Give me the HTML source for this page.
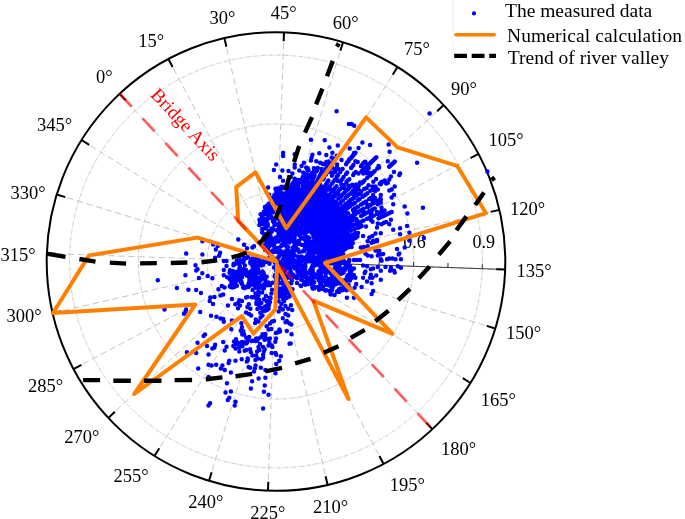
<!DOCTYPE html>
<html><head><meta charset="utf-8"><style>
html,body{margin:0;padding:0;background:#fff;}
svg{display:block;will-change:transform;font-family:"Liberation Serif",serif;}
</style></head><body>
<svg width="685" height="519" viewBox="0 0 685 519">
<rect width="685" height="519" fill="#fff"/>
<g stroke="#c6c6c6" stroke-width="1" stroke-dasharray="6.5 3.6" fill="none"><line x1="276.0" y1="261.5" x2="119.6" y2="93.8"/><line x1="276.0" y1="261.5" x2="168.4" y2="59.0"/><line x1="276.0" y1="261.5" x2="224.4" y2="38.1"/><line x1="276.0" y1="261.5" x2="284.0" y2="32.3"/><line x1="276.0" y1="261.5" x2="343.0" y2="42.2"/><line x1="276.0" y1="261.5" x2="397.5" y2="67.0"/><line x1="276.0" y1="261.5" x2="443.7" y2="105.1"/><line x1="276.0" y1="261.5" x2="478.5" y2="153.9"/><line x1="276.0" y1="261.5" x2="499.4" y2="209.9"/><line x1="276.0" y1="261.5" x2="505.2" y2="269.5"/><line x1="276.0" y1="261.5" x2="495.3" y2="328.5"/><line x1="276.0" y1="261.5" x2="470.5" y2="383.0"/><line x1="276.0" y1="261.5" x2="432.4" y2="429.2"/><line x1="276.0" y1="261.5" x2="383.6" y2="464.0"/><line x1="276.0" y1="261.5" x2="327.6" y2="484.9"/><line x1="276.0" y1="261.5" x2="268.0" y2="490.7"/><line x1="276.0" y1="261.5" x2="209.0" y2="480.8"/><line x1="276.0" y1="261.5" x2="154.5" y2="456.0"/><line x1="276.0" y1="261.5" x2="108.3" y2="417.9"/><line x1="276.0" y1="261.5" x2="73.5" y2="369.1"/><line x1="276.0" y1="261.5" x2="52.6" y2="313.1"/><line x1="276.0" y1="261.5" x2="46.8" y2="253.5"/><line x1="276.0" y1="261.5" x2="56.7" y2="194.5"/><line x1="276.0" y1="261.5" x2="81.5" y2="140.0"/></g>
<g stroke="#cacaca" stroke-width="1" stroke-dasharray="4 1.2 1.2 1.2" fill="none"><circle cx="276.0" cy="261.5" r="68.8"/><circle cx="276.0" cy="261.5" r="137.6"/><circle cx="276.0" cy="261.5" r="206.4"/></g>
<g stroke="#3a3a3a" stroke-width="1.1"><line x1="276.0" y1="261.5" x2="505.2" y2="269.5"/><line x1="310.4" y1="262.7" x2="310.5" y2="258.2"/><line x1="344.7" y1="263.9" x2="344.9" y2="259.4"/><line x1="379.1" y1="265.1" x2="379.3" y2="260.6"/><line x1="413.5" y1="266.3" x2="413.7" y2="261.8"/><line x1="447.9" y1="267.5" x2="448.0" y2="263.0"/><line x1="482.2" y1="268.7" x2="482.4" y2="264.2"/></g>
<g stroke="#000" stroke-width="2" fill="none"><circle cx="276.0" cy="261.5" r="229.3"/><line x1="119.6" y1="93.8" x2="125.8" y2="100.4"/><line x1="168.4" y1="59.0" x2="172.6" y2="67.0"/><line x1="224.4" y1="38.1" x2="226.4" y2="46.8"/><line x1="284.0" y1="32.3" x2="283.7" y2="41.3"/><line x1="343.0" y1="42.2" x2="340.4" y2="50.8"/><line x1="397.5" y1="67.0" x2="392.7" y2="74.7"/><line x1="443.7" y1="105.1" x2="437.1" y2="111.3"/><line x1="478.5" y1="153.9" x2="470.5" y2="158.1"/><line x1="499.4" y1="209.9" x2="490.7" y2="211.9"/><line x1="505.2" y1="269.5" x2="496.2" y2="269.2"/><line x1="495.3" y1="328.5" x2="486.7" y2="325.9"/><line x1="470.5" y1="383.0" x2="462.8" y2="378.2"/><line x1="432.4" y1="429.2" x2="426.2" y2="422.6"/><line x1="383.6" y1="464.0" x2="379.4" y2="456.0"/><line x1="327.6" y1="484.9" x2="325.6" y2="476.2"/><line x1="268.0" y1="490.7" x2="268.3" y2="481.7"/><line x1="209.0" y1="480.8" x2="211.6" y2="472.2"/><line x1="154.5" y1="456.0" x2="159.3" y2="448.3"/><line x1="108.3" y1="417.9" x2="114.9" y2="411.7"/><line x1="73.5" y1="369.1" x2="81.5" y2="364.9"/><line x1="52.6" y1="313.1" x2="61.3" y2="311.1"/><line x1="46.8" y1="253.5" x2="55.8" y2="253.8"/><line x1="56.7" y1="194.5" x2="65.3" y2="197.1"/><line x1="81.5" y1="140.0" x2="89.2" y2="144.8"/></g>
<g font-size="18" fill="#000"><text x="403.3" y="247.5">0.6</text><text x="472.6" y="248.4">0.9</text></g>
<path d="M326.8 237.5h0M331.8 231.3h0M293.3 228.8h0M327.1 200.5h0M336.1 240.8h0M324.8 246.6h0M293.4 253.4h0M333.4 236.7h0M323.9 242.5h0M293.4 239.0h0M289.2 232.1h0M311.8 198.4h0M338.9 234.3h0M287.7 233.8h0M307.2 223.3h0M313.4 237.2h0M321.5 200.4h0M293.1 183.3h0M275.7 210.3h0M335.6 224.7h0M302.0 259.3h0M313.0 246.2h0M265.6 228.6h0M299.0 193.1h0M301.0 229.8h0M294.7 222.8h0M309.6 209.4h0M283.3 233.4h0M306.5 202.6h0M319.6 203.7h0M322.8 211.4h0M334.9 241.1h0M335.6 214.7h0M299.5 259.8h0M279.8 222.5h0M338.3 239.0h0M298.7 260.2h0M328.1 229.1h0M268.9 230.9h0M297.6 196.0h0M263.6 222.9h0M269.7 215.8h0M315.5 216.9h0M281.3 227.4h0M294.6 243.6h0M339.5 240.0h0M279.3 188.6h0M334.5 244.1h0M311.9 208.9h0M282.1 235.9h0M306.8 228.2h0M312.6 241.6h0M275.2 199.7h0M295.1 230.8h0M267.8 224.0h0M316.2 224.8h0M312.4 210.0h0M299.6 196.6h0M288.2 240.8h0M269.3 246.2h0M311.8 242.8h0M277.2 214.3h0M281.0 246.2h0M290.3 233.3h0M305.5 241.0h0M336.9 214.6h0M290.3 187.2h0M266.2 225.9h0M300.1 235.9h0M284.4 243.4h0M315.0 185.9h0M284.8 239.2h0M317.7 202.6h0M271.3 208.8h0M320.4 209.5h0M269.1 237.9h0M307.2 255.2h0M296.1 245.7h0M284.9 205.4h0M292.9 256.6h0M289.7 209.4h0M289.8 211.9h0M291.9 195.3h0M306.8 245.2h0M304.8 248.4h0M306.7 193.8h0M323.2 252.1h0M302.7 224.2h0M307.1 259.2h0M314.1 245.8h0M264.6 224.4h0M266.1 240.2h0M312.7 191.0h0M322.1 232.9h0M279.9 197.4h0M323.8 222.3h0M323.7 211.8h0M287.7 259.4h0M315.9 220.0h0M304.5 238.9h0M318.9 255.0h0M293.8 247.6h0M315.4 249.9h0M327.2 248.2h0M313.2 222.5h0M319.1 245.6h0M294.8 214.0h0M271.5 240.6h0M295.0 203.3h0M285.2 188.6h0M313.9 243.4h0M297.9 227.5h0M277.5 198.6h0M319.7 228.4h0M278.1 194.4h0M282.9 193.4h0M323.1 205.0h0M305.4 246.8h0M299.6 200.7h0M288.1 224.5h0M339.9 219.1h0M291.7 222.8h0M302.7 201.9h0M342.7 233.6h0M299.1 209.9h0M326.4 238.2h0M310.3 192.2h0M272.4 205.8h0M281.1 251.2h0M302.7 231.9h0M304.3 191.6h0M328.5 249.3h0M282.0 238.5h0M267.4 218.9h0M298.7 258.3h0M308.7 250.2h0M284.8 244.5h0M294.4 255.1h0M266.9 247.6h0M276.8 224.2h0M303.5 192.2h0M329.4 204.9h0M285.0 217.8h0M319.5 208.9h0M317.2 187.9h0M292.5 217.4h0M291.0 238.0h0M279.2 225.9h0M276.6 230.2h0M283.7 210.3h0M304.7 203.8h0M287.7 211.6h0M315.4 200.4h0M276.1 239.7h0M287.0 257.4h0M306.7 239.1h0M287.2 247.7h0M267.2 235.3h0M318.9 194.0h0M293.1 248.5h0M309.2 186.6h0M278.3 192.1h0M269.7 212.8h0M295.2 221.5h0M313.8 242.7h0M328.5 211.1h0M287.2 213.3h0M325.8 233.8h0M287.1 207.5h0M314.1 187.9h0M291.0 221.3h0M325.7 247.5h0M310.8 192.2h0M323.8 254.0h0M305.4 208.3h0M301.4 190.9h0M302.7 238.4h0M338.9 231.1h0M279.8 226.9h0M318.0 206.4h0M337.6 209.1h0M298.3 189.4h0M335.5 224.2h0M306.5 225.6h0M281.5 254.5h0M309.9 189.3h0M328.8 203.0h0M307.6 248.0h0M274.9 224.5h0M338.4 233.7h0M285.1 234.7h0M321.4 210.7h0M309.1 245.7h0M298.7 191.0h0M291.8 226.3h0M273.8 222.2h0M281.4 226.2h0M287.2 232.3h0M309.8 218.1h0M293.9 230.8h0M317.3 241.9h0M322.6 219.4h0M331.3 213.0h0M295.8 226.0h0M335.6 222.7h0M303.5 214.9h0M335.5 205.7h0M263.8 239.3h0M335.1 239.8h0M309.6 241.4h0M284.9 228.3h0M296.9 220.8h0M292.7 183.4h0M317.8 222.7h0M279.4 204.5h0M292.6 198.7h0M340.7 234.3h0M332.3 214.0h0M327.1 197.5h0M322.2 226.1h0M304.5 257.9h0M284.4 206.0h0M328.0 212.0h0M289.3 227.6h0M335.0 204.6h0M301.2 256.5h0M276.6 203.6h0M275.7 248.6h0M289.1 218.3h0M273.7 252.0h0M312.5 195.0h0M268.1 239.3h0M285.6 253.7h0M332.5 238.2h0M270.6 236.8h0M338.3 216.0h0M285.1 238.0h0M275.8 194.1h0M279.1 234.2h0M325.9 210.0h0M315.0 252.4h0M309.0 198.1h0M284.6 255.9h0M315.5 202.1h0M313.2 186.6h0M303.8 223.1h0M263.0 228.8h0M283.2 199.9h0M283.3 241.7h0M279.9 202.2h0M305.4 194.6h0M262.0 217.4h0M322.5 211.0h0M337.6 220.5h0M274.4 225.2h0M313.6 208.9h0M314.7 244.0h0M302.8 221.0h0M330.5 235.8h0M303.1 258.0h0M273.9 243.7h0M273.1 229.5h0M279.0 215.6h0M324.4 244.3h0M325.9 198.7h0M300.5 197.5h0M308.1 220.5h0M319.5 226.6h0M301.0 215.1h0M296.5 200.9h0M335.7 226.3h0M305.0 244.7h0M279.3 191.2h0M285.7 230.6h0M303.5 201.1h0M308.9 186.4h0M280.7 192.4h0M317.5 248.0h0M293.8 209.3h0M277.4 259.6h0M262.8 219.7h0M271.4 216.9h0M279.5 252.9h0M271.1 211.7h0M284.3 214.3h0M321.1 198.2h0M280.6 224.9h0M279.6 217.4h0M337.8 209.3h0M287.6 260.4h0M310.7 182.4h0M293.2 233.0h0M317.8 250.8h0M309.0 252.6h0M298.2 211.7h0M330.3 210.7h0M325.1 197.0h0M288.5 194.3h0M305.6 192.7h0M276.4 196.9h0M298.6 204.7h0M316.5 250.6h0M276.5 210.9h0M265.3 236.4h0M289.8 201.9h0M281.3 211.7h0M337.1 238.4h0M281.9 209.0h0M272.1 256.7h0M289.5 242.6h0M320.2 254.3h0M291.6 186.0h0M333.6 206.1h0M324.2 222.2h0M263.8 211.8h0M271.9 228.5h0M295.0 224.2h0M270.7 237.7h0M281.2 239.2h0M315.4 191.3h0M276.5 202.3h0M319.3 212.7h0M291.8 250.9h0M278.3 203.3h0M288.3 197.0h0M312.4 226.0h0M284.3 234.7h0M317.3 234.4h0M279.0 231.5h0M266.8 214.6h0M292.3 184.1h0M291.5 206.3h0M301.1 202.3h0M272.6 212.5h0M299.3 192.9h0M315.3 199.0h0M267.0 207.4h0M294.8 191.6h0M308.3 237.2h0M305.9 237.1h0M293.3 183.6h0M301.0 227.7h0M298.8 206.1h0M288.5 253.0h0M306.9 200.8h0M315.5 194.5h0M298.8 230.1h0M307.8 257.2h0M324.3 231.1h0M311.6 213.2h0M294.3 202.0h0M329.2 252.0h0M291.4 254.5h0M302.0 204.7h0M289.6 260.1h0M278.5 235.5h0M305.1 211.8h0M279.4 220.0h0M314.0 224.5h0M311.9 225.6h0M287.3 207.8h0M334.0 205.1h0M319.6 236.8h0M317.1 259.0h0M311.6 219.8h0M306.8 209.7h0M283.3 241.2h0M304.2 198.8h0M280.2 206.1h0M274.2 221.7h0M318.6 188.5h0M297.3 243.1h0M299.7 192.6h0M332.3 251.2h0M302.0 245.1h0M292.3 238.5h0M280.4 238.4h0M286.8 206.8h0M323.2 249.0h0M329.1 226.1h0M294.7 237.7h0M311.7 248.0h0M291.0 234.6h0M278.7 194.4h0M270.5 236.1h0M294.6 231.5h0M292.7 256.5h0M319.4 188.9h0M269.3 206.5h0M261.4 224.1h0M299.9 210.1h0M285.3 245.5h0M329.9 202.6h0M292.2 230.3h0M292.0 236.6h0M305.2 245.4h0M280.4 219.6h0M269.4 205.9h0M271.3 230.9h0M282.3 198.0h0M299.9 209.4h0M274.6 219.2h0M332.3 219.3h0M294.2 246.0h0M292.6 183.9h0M305.6 233.6h0M311.7 202.1h0M329.5 239.2h0M265.5 208.9h0M322.8 204.8h0M302.6 180.0h0M276.9 258.6h0M260.1 222.8h0M327.5 244.8h0M321.2 212.2h0M326.9 247.7h0M293.1 237.6h0M280.3 254.5h0M278.4 211.3h0M290.3 233.6h0M327.6 209.3h0M313.0 208.5h0M282.7 254.1h0M287.4 240.6h0M277.0 240.7h0M305.3 235.5h0M271.3 208.2h0M301.6 212.5h0M286.3 223.6h0M333.5 205.7h0M293.6 237.6h0M274.2 201.8h0M316.3 257.7h0M286.4 194.3h0M289.3 261.1h0M271.7 231.7h0M291.1 232.5h0M277.1 230.2h0M334.1 250.1h0M312.2 221.0h0M307.1 188.6h0M329.8 236.3h0M297.4 234.3h0M294.6 211.0h0M278.6 228.9h0M307.5 221.8h0M296.9 228.3h0M309.3 256.3h0M272.0 218.0h0M285.6 240.2h0M278.9 248.8h0M314.0 256.8h0M329.1 245.2h0M319.2 199.9h0M327.3 216.7h0M304.4 250.9h0M275.7 202.3h0M313.5 185.2h0M306.0 244.4h0M300.6 199.2h0M326.7 250.0h0M324.2 224.6h0M335.6 245.2h0M272.0 209.4h0M288.4 250.8h0M274.5 211.3h0M330.8 230.3h0M312.3 251.8h0M320.6 195.4h0M315.6 214.8h0M285.8 231.3h0M282.7 229.1h0M317.8 194.1h0M270.0 236.6h0M298.5 189.8h0M310.7 208.7h0M275.7 261.6h0M317.5 240.1h0M289.6 204.8h0M293.6 191.2h0M312.4 214.3h0M328.4 213.0h0M297.7 221.1h0M318.5 198.6h0M308.1 202.7h0M332.8 202.9h0M331.3 235.2h0M297.6 256.5h0M291.9 240.7h0M309.9 216.3h0M264.6 213.9h0M282.9 215.7h0M317.8 234.8h0M279.8 213.2h0M270.3 253.3h0M280.4 214.0h0M288.0 247.1h0M330.9 228.1h0M305.2 187.4h0M289.9 210.2h0M320.2 234.6h0M288.2 253.5h0M312.6 218.0h0M289.7 217.6h0M285.9 234.7h0M310.3 259.5h0M292.5 247.8h0M314.0 237.2h0M298.2 212.4h0M314.5 197.2h0M290.4 191.0h0M292.5 240.6h0M313.9 230.8h0M321.8 200.1h0M327.6 239.7h0M331.7 257.4h0M288.8 223.5h0M304.2 188.3h0M325.8 204.1h0M302.0 189.4h0M307.1 189.9h0M266.7 221.6h0M284.0 243.6h0M280.0 213.4h0M297.3 225.4h0M297.9 249.6h0M268.0 249.6h0M303.5 212.8h0M310.8 250.7h0M328.2 240.0h0M319.3 192.1h0M304.0 181.5h0M268.5 204.0h0M340.7 232.4h0M294.3 185.6h0M281.2 188.4h0M336.7 206.4h0M300.4 233.3h0M307.1 220.6h0M335.4 211.8h0M284.4 240.4h0M281.0 209.6h0M295.4 218.6h0M289.4 214.8h0M297.2 183.2h0M303.7 224.5h0M292.9 197.6h0M267.6 209.9h0M285.7 219.2h0M278.6 241.2h0M293.5 259.2h0M309.6 209.7h0M284.6 229.6h0M308.9 205.2h0M301.2 221.9h0M282.0 245.1h0M295.1 250.4h0M293.1 202.8h0M316.5 186.2h0M286.9 205.4h0M328.3 244.5h0M313.4 183.8h0M311.9 224.9h0M337.4 232.1h0M322.7 227.2h0M294.5 235.4h0M265.5 243.9h0M296.4 241.4h0M291.1 216.2h0M296.0 188.9h0M286.2 240.0h0M329.5 234.3h0M305.4 188.5h0M269.2 204.8h0M339.7 225.5h0M294.2 223.6h0M332.9 218.3h0M261.8 214.9h0M291.0 235.0h0M337.5 220.0h0M317.4 211.3h0M321.8 192.9h0M308.6 195.9h0M288.4 192.7h0M288.7 228.1h0M303.1 211.3h0M307.6 248.9h0M289.4 227.5h0M299.7 260.4h0M286.9 236.9h0M278.9 200.8h0M320.8 226.8h0M328.8 210.4h0M319.6 215.0h0M311.3 225.5h0M297.6 219.5h0M278.7 241.5h0M318.1 226.2h0M305.7 206.7h0M272.0 257.9h0M323.7 245.9h0M267.4 244.1h0M277.6 195.6h0M304.3 229.7h0M269.4 242.5h0M308.3 253.7h0M337.1 236.2h0M289.9 257.9h0M319.8 203.2h0M331.5 239.4h0M281.5 199.8h0M260.9 223.6h0M280.6 203.4h0M280.5 190.0h0M300.1 201.7h0M283.2 202.1h0M302.1 251.5h0M272.7 250.4h0M331.3 229.6h0M305.1 239.9h0M304.3 233.8h0M336.7 243.4h0M325.6 198.5h0M297.4 209.8h0M320.7 257.3h0M301.8 226.0h0M288.6 198.4h0M338.5 233.6h0M267.8 226.0h0M285.3 251.4h0M264.4 234.3h0M317.0 250.0h0M325.4 222.3h0M265.7 222.8h0M274.8 222.8h0M289.1 220.5h0M275.9 237.6h0M294.4 219.4h0M265.8 219.5h0M306.2 259.7h0M306.6 190.3h0M284.5 206.9h0M318.4 256.9h0M300.5 228.1h0M317.0 229.9h0M310.9 256.5h0M266.5 222.2h0M268.6 251.1h0M317.3 222.2h0M308.1 241.9h0M264.9 244.9h0M293.6 206.9h0M324.2 200.9h0M308.6 222.7h0M287.5 235.1h0M297.6 198.5h0M271.8 200.1h0M299.6 244.1h0M287.3 198.9h0M314.4 200.7h0M303.3 200.2h0M278.8 204.1h0M287.0 239.3h0M316.1 244.6h0M304.8 185.6h0M323.6 199.4h0M277.6 213.5h0M289.3 254.6h0M270.6 244.6h0M325.2 207.1h0M325.9 210.6h0M283.4 228.3h0M321.7 218.6h0M301.3 210.6h0M319.5 257.5h0M316.4 252.3h0M320.5 257.8h0M297.5 210.0h0M274.8 207.9h0M303.6 223.9h0M307.1 242.3h0M303.6 257.6h0M323.4 255.7h0M301.7 192.4h0M287.1 226.2h0M284.0 244.8h0M310.1 249.2h0M298.4 194.9h0M293.0 183.4h0M321.3 196.7h0M326.6 220.5h0M314.3 217.7h0M281.2 230.4h0M290.4 218.3h0M311.8 205.4h0M289.3 252.4h0M308.2 213.7h0M304.8 217.3h0M287.2 254.8h0M278.9 256.7h0M331.1 252.2h0M272.9 221.3h0M273.6 239.1h0M279.0 227.5h0M272.5 257.6h0M283.2 187.1h0M317.2 207.9h0M306.4 220.3h0M337.0 221.7h0M301.1 201.4h0M307.6 231.5h0M298.2 186.6h0M301.2 219.0h0M313.3 259.5h0M282.8 215.8h0M266.3 245.4h0M279.0 247.8h0M326.5 200.2h0M335.3 220.9h0M295.1 225.1h0M339.0 219.7h0M299.9 203.2h0M330.1 220.8h0M288.1 195.4h0M277.3 248.3h0M336.6 235.9h0M326.5 238.1h0M327.5 245.5h0M274.1 246.6h0M284.8 199.3h0M302.4 207.6h0M326.0 229.7h0M313.5 184.5h0M315.5 188.2h0M285.4 194.5h0M317.8 242.0h0M342.3 230.7h0M269.8 239.3h0M324.0 244.2h0M332.9 226.3h0M338.8 232.1h0M300.7 211.0h0M272.8 245.1h0M278.5 233.3h0M324.6 236.7h0M302.7 205.3h0M282.2 194.6h0M313.8 236.0h0M283.7 258.0h0M311.4 258.9h0M324.5 206.7h0M282.8 222.4h0M300.3 182.0h0M331.9 223.5h0M299.1 240.8h0M280.3 195.6h0M308.2 199.1h0M303.6 257.8h0M313.1 213.5h0M293.5 198.6h0M299.2 258.6h0M269.5 215.0h0M317.0 242.3h0M306.0 232.3h0M280.4 224.0h0M275.2 242.6h0M305.7 201.7h0M319.9 239.4h0M286.1 242.7h0M313.8 237.6h0M297.7 215.0h0M268.2 218.5h0M281.9 236.7h0M296.1 189.7h0M295.1 226.6h0M322.0 212.5h0M314.0 235.6h0M311.1 183.0h0M319.1 189.8h0M263.8 218.4h0M292.2 218.0h0M331.1 219.5h0M308.8 205.3h0M284.9 197.4h0M332.2 221.3h0M293.8 212.2h0M325.9 237.8h0M297.0 209.4h0M296.0 216.7h0M285.8 230.8h0M293.9 204.3h0M324.4 216.8h0M299.1 252.0h0M297.5 210.3h0M325.5 212.4h0M315.8 240.5h0M284.2 239.1h0M339.3 233.5h0M315.6 215.2h0M314.3 197.8h0M324.2 223.8h0M294.3 242.6h0M281.1 230.0h0M277.8 212.1h0M308.4 247.2h0M329.8 211.5h0M309.0 238.1h0M323.4 241.0h0M308.0 200.0h0M318.7 225.6h0M270.7 243.8h0M286.6 239.3h0M307.0 222.9h0M301.0 193.0h0M312.0 253.2h0M315.1 203.1h0M327.2 213.9h0M271.4 229.3h0M298.0 223.0h0M284.5 236.5h0M317.4 247.8h0M291.3 201.8h0M289.4 223.7h0M314.6 191.4h0M285.4 251.4h0M266.4 244.9h0M321.5 201.0h0M300.5 236.8h0M318.5 237.1h0M287.6 251.9h0M277.6 218.4h0M285.7 215.7h0M327.7 226.4h0M278.0 197.6h0M311.5 191.6h0M296.3 214.9h0M329.0 255.0h0M316.3 193.3h0M289.2 237.7h0M277.4 252.3h0M289.9 198.1h0M330.1 224.1h0M308.4 187.0h0M342.3 228.9h0M318.0 193.7h0M297.0 283.0h0M329.6 271.6h0M312.0 270.5h0M319.2 272.7h0M303.7 269.2h0M298.5 269.6h0M321.6 269.9h0M312.1 277.9h0M334.1 281.5h0M326.8 283.8h0M314.5 274.6h0M306.0 277.6h0M312.1 278.5h0M317.0 287.0h0M344.7 268.4h0M323.8 270.4h0M340.4 283.6h0M329.3 285.6h0M311.0 274.1h0M340.3 263.5h0M317.9 278.0h0M306.0 282.1h0M348.3 275.4h0M334.7 280.5h0M320.8 266.7h0M327.9 268.2h0M310.4 278.9h0M301.9 280.1h0M324.6 261.6h0M292.5 263.4h0M334.7 272.0h0M349.8 279.4h0M331.8 286.0h0M280.4 262.1h0M337.4 265.6h0M349.8 271.6h0M290.3 277.3h0M350.6 268.9h0M327.9 263.2h0M290.4 268.8h0M327.6 281.7h0M305.5 284.7h0M314.0 262.9h0M313.9 273.7h0M316.9 262.6h0M304.6 271.9h0M346.4 267.0h0M314.5 277.5h0M335.0 279.6h0M294.4 267.3h0M331.8 263.6h0M342.6 262.1h0M290.6 276.4h0M341.0 281.4h0M333.4 286.1h0M331.6 262.7h0M339.5 265.9h0M288.5 262.2h0M305.3 263.9h0M278.9 264.7h0M298.1 267.3h0M284.6 267.6h0M325.3 266.5h0M304.9 265.9h0M319.7 277.8h0M305.9 276.7h0M290.9 272.1h0M321.2 273.9h0M330.5 273.3h0M330.4 291.0h0M336.4 284.1h0M347.2 267.1h0M334.9 264.7h0M342.7 272.9h0M345.1 280.0h0M340.6 282.6h0M349.9 265.7h0M307.1 279.6h0M297.5 271.7h0M322.7 267.3h0M352.0 269.7h0M304.2 283.9h0M301.3 270.1h0M293.9 276.9h0M331.6 289.3h0M348.0 274.9h0M300.5 274.1h0M311.6 283.6h0M350.4 267.7h0M323.5 266.3h0M320.1 283.3h0M283.6 262.2h0M328.7 279.1h0M341.9 273.3h0M339.5 272.4h0M332.1 290.2h0M318.7 280.2h0M342.5 283.3h0M351.1 270.5h0M335.6 281.9h0M312.7 269.7h0M322.3 277.8h0M315.3 262.9h0M337.0 270.6h0M311.1 277.7h0M337.9 274.0h0M346.9 277.0h0M306.6 276.8h0M287.6 265.9h0M308.6 280.9h0M334.8 275.7h0M298.7 273.1h0M344.4 268.0h0M313.2 265.4h0M333.7 263.1h0M328.0 268.1h0M310.3 281.0h0M301.8 265.7h0M336.1 264.6h0M336.9 267.8h0M312.2 270.9h0M346.6 267.9h0M325.5 263.4h0M323.6 271.6h0M331.7 290.8h0M337.2 262.3h0M314.8 265.6h0M342.6 269.2h0M318.5 271.5h0M334.5 272.1h0M308.4 284.0h0M332.0 276.3h0M285.1 264.2h0M314.2 282.3h0M304.1 273.2h0M322.6 265.2h0M330.1 280.7h0M323.2 286.4h0M350.7 274.4h0M325.9 273.4h0M307.6 273.1h0M325.8 272.6h0M337.6 283.3h0M341.0 273.7h0M325.5 269.3h0M300.3 264.3h0M337.5 291.4h0M299.3 273.5h0M285.0 265.7h0M325.1 290.4h0M334.5 268.5h0M343.6 272.6h0M312.5 267.7h0M298.4 275.0h0M337.8 271.8h0M290.7 265.0h0M322.4 261.5h0M310.9 280.8h0M300.6 262.1h0M308.4 272.7h0M350.9 272.9h0M347.0 289.6h0M320.2 265.2h0M338.2 264.0h0M318.9 264.2h0M325.7 276.6h0M335.9 283.1h0M307.8 278.0h0M330.9 283.7h0M319.9 287.0h0M339.5 264.0h0M287.2 262.6h0M299.8 275.5h0M311.8 279.6h0M318.2 264.1h0M344.1 263.3h0M321.5 283.0h0M307.8 278.2h0M291.7 276.3h0M284.2 265.5h0M291.2 278.6h0M305.2 266.2h0M339.0 291.9h0M292.1 265.0h0M288.7 268.6h0M312.5 265.2h0M303.1 269.0h0M325.9 284.8h0M335.8 275.4h0M311.2 276.4h0M304.5 276.0h0M328.8 284.5h0M301.1 279.7h0M287.2 262.5h0M305.8 272.9h0M278.5 263.6h0M340.5 262.0h0M300.4 273.2h0M300.0 265.5h0M321.5 288.7h0M305.4 266.8h0M334.9 268.6h0M331.7 287.1h0M282.4 267.2h0M332.7 271.0h0M310.8 272.7h0M312.3 287.2h0M346.8 280.8h0M285.3 271.0h0M328.4 267.7h0M345.1 289.6h0M315.3 262.7h0M298.0 270.7h0M321.8 288.0h0M332.3 272.2h0M293.5 263.1h0M318.1 274.2h0M319.5 270.6h0M301.8 277.2h0M305.1 269.9h0M298.9 264.8h0M303.7 275.6h0M316.5 261.8h0M318.8 277.3h0M314.7 287.1h0M340.3 290.5h0M331.9 283.2h0M311.5 278.6h0M320.6 278.3h0M339.1 289.3h0M323.4 280.7h0M345.9 262.6h0M312.6 273.4h0M349.0 266.4h0M319.4 265.8h0M334.0 277.1h0M332.6 271.1h0M343.7 286.6h0M297.2 263.7h0M330.6 285.1h0M316.6 262.1h0M312.9 272.2h0M348.0 265.1h0M310.3 270.0h0M327.8 264.6h0M301.7 274.5h0M312.4 275.4h0M339.8 268.5h0M294.8 276.2h0M325.5 281.0h0M283.0 267.9h0M332.3 288.7h0M345.1 269.7h0M312.4 285.6h0M335.1 277.8h0M296.9 278.3h0M327.0 271.7h0M325.2 265.8h0M350.8 268.0h0M340.8 289.0h0M339.2 279.7h0M340.4 288.6h0M279.4 263.0h0M332.3 277.1h0M310.4 283.3h0M327.2 283.9h0M304.3 282.1h0M331.7 287.5h0M311.6 267.8h0M310.7 283.5h0M318.2 264.6h0M294.9 268.5h0M293.1 274.7h0M329.5 291.1h0M328.1 261.7h0M342.8 281.1h0M332.3 281.3h0M303.3 272.2h0M289.6 288.0h0M284.7 293.1h0M285.2 295.1h0M284.8 277.1h0M284.5 294.7h0M282.4 296.3h0M280.2 276.6h0M279.4 288.9h0M276.6 275.0h0M281.3 268.5h0M284.6 279.2h0M283.5 272.1h0M275.2 274.9h0M282.8 282.9h0M279.3 283.3h0M276.0 276.6h0M279.6 293.4h0M287.3 289.2h0M284.5 295.2h0M277.1 290.9h0M284.1 286.5h0M278.5 274.9h0M284.7 275.5h0M285.6 296.6h0M277.0 289.8h0M289.2 293.5h0M282.9 280.1h0M289.8 288.4h0M286.2 275.9h0M287.3 284.8h0M281.6 282.9h0M279.4 274.3h0M287.3 277.2h0M290.4 291.1h0M276.0 269.9h0M285.0 298.4h0M279.7 272.4h0M278.5 269.3h0M281.7 277.2h0M288.2 283.2h0M276.6 265.1h0M284.7 295.5h0M278.7 288.7h0M288.3 290.2h0M278.9 269.6h0M275.8 277.3h0M276.3 276.8h0M278.3 279.6h0M284.9 287.7h0M276.5 283.2h0M275.9 279.9h0M281.3 292.5h0M283.6 289.7h0M290.2 289.0h0M278.6 271.2h0M282.7 274.1h0M286.1 279.0h0M275.8 268.3h0M286.6 297.9h0M277.0 267.0h0M287.9 285.8h0M251.5 261.1h0M259.3 261.9h0M235.5 276.4h0M259.3 283.0h0M267.9 261.9h0M243.4 262.1h0M252.2 258.4h0M268.0 283.1h0M239.3 268.5h0M231.8 281.8h0M242.8 271.2h0M264.6 285.6h0M258.1 259.5h0M260.9 287.8h0M252.9 262.1h0M255.8 259.6h0M250.8 260.0h0M248.7 283.5h0M263.8 284.6h0M250.6 271.5h0M231.8 282.6h0M255.9 270.5h0M236.0 272.1h0M232.9 271.0h0M235.6 283.8h0M257.7 285.1h0M255.1 262.6h0M242.1 284.2h0M256.6 278.1h0M258.8 259.0h0M238.5 271.2h0M256.9 265.8h0M231.4 275.3h0M248.3 287.1h0M238.9 264.0h0M267.0 285.2h0M256.2 265.3h0M258.0 286.5h0M257.6 266.7h0M241.2 278.1h0M243.7 261.1h0M231.1 276.9h0M240.5 260.7h0M265.5 262.0h0M246.2 287.2h0M268.0 284.0h0M256.4 267.8h0M246.9 275.6h0M240.8 277.9h0M246.4 271.3h0M253.4 276.8h0M255.1 279.1h0M255.3 275.1h0M240.2 261.4h0M249.8 285.7h0M256.1 274.0h0M250.4 263.2h0M266.1 260.2h0M239.9 266.4h0M238.7 263.7h0M232.9 274.1h0M237.2 277.9h0M257.3 277.4h0M251.7 277.0h0M243.0 272.3h0M261.4 264.3h0M263.5 276.1h0M254.9 281.9h0M242.7 269.3h0M249.4 280.9h0M262.9 263.4h0M258.3 269.7h0M256.9 280.3h0M258.0 282.4h0M249.6 281.1h0M257.5 277.7h0M254.9 278.7h0M255.4 260.4h0M260.8 279.9h0M251.7 262.8h0M253.1 268.9h0M236.9 285.8h0M237.5 280.2h0M237.2 273.9h0M250.2 277.8h0M250.7 262.7h0M245.8 271.5h0M269.9 261.1h0M254.4 272.5h0M255.1 282.7h0M257.2 267.8h0M241.9 274.9h0M259.5 273.0h0M242.7 262.6h0M240.0 271.4h0M248.9 276.6h0M241.9 277.2h0M251.4 282.8h0M244.9 265.6h0M262.6 271.4h0M261.2 265.6h0M248.0 275.9h0M253.7 274.9h0M255.4 287.7h0M264.0 260.4h0M231.7 283.5h0M237.4 273.2h0M259.5 284.7h0M256.8 286.4h0M260.7 265.1h0M246.6 272.8h0M234.3 286.9h0M251.8 263.9h0M252.2 283.1h0M242.0 276.2h0M233.5 265.2h0M238.0 273.6h0M261.4 264.7h0M261.4 276.1h0M250.5 273.7h0M259.4 260.8h0M254.6 263.7h0M241.5 281.9h0M250.1 262.2h0M258.3 271.7h0M254.4 279.8h0M268.4 282.5h0M240.8 282.3h0M253.0 263.4h0M255.5 266.5h0M250.4 281.9h0M252.2 270.2h0M235.0 278.4h0M244.0 274.2h0M245.9 269.9h0M251.7 273.8h0M236.1 280.8h0M241.1 270.3h0M240.8 276.5h0M249.4 279.2h0M249.1 282.4h0M255.0 260.8h0M252.2 265.5h0M243.1 287.6h0M251.7 281.0h0M236.5 277.5h0M234.7 264.5h0M246.4 257.9h0M263.5 278.6h0M231.3 281.9h0M265.6 281.9h0M240.2 273.7h0M266.7 276.7h0M253.8 263.4h0M253.7 276.5h0M250.7 277.7h0M255.6 278.0h0M248.4 284.3h0M254.1 285.5h0M265.3 279.4h0M255.0 265.4h0M234.0 278.5h0M240.8 277.0h0" stroke="#0000ff" stroke-width="4.5" stroke-linecap="round" fill="none"/>
<path d="M279.2 215.8h0M279.3 213.8h0M279.6 211.9h0M279.6 209.9h0M279.7 208.0h0M281.7 216.0h0M281.9 214.1h0M282.2 212.1h0M282.5 210.2h0M282.6 208.3h0M282.8 206.3h0M283.1 204.4h0M283.5 202.5h0M283.7 200.5h0M284.2 194.7h0M283.7 216.3h0M284.1 214.4h0M284.3 212.4h0M284.7 210.5h0M285.1 208.6h0M285.4 206.7h0M285.6 204.8h0M286.0 202.8h0M286.4 200.9h0M286.8 199.0h0M287.0 197.1h0M287.6 193.2h0M288.0 191.3h0M286.3 216.8h0M286.6 214.9h0M287.2 213.0h0M287.6 211.1h0M288.0 209.2h0M288.4 207.3h0M288.8 205.4h0M289.2 203.5h0M289.8 201.6h0M290.2 199.7h0M290.6 197.8h0M291.0 195.9h0M292.0 192.1h0M292.5 190.2h0M292.7 188.3h0M293.6 184.5h0M294.0 182.6h0M294.4 180.7h0M294.8 178.8h0M288.7 217.4h0M289.3 215.6h0M289.8 213.7h0M290.4 211.8h0M290.9 209.9h0M291.4 208.1h0M292.0 206.2h0M292.5 204.3h0M293.0 202.4h0M293.6 200.6h0M294.0 198.7h0M294.5 196.8h0M295.1 194.9h0M296.2 191.2h0M296.9 189.4h0M297.2 187.4h0M297.9 185.6h0M298.9 181.8h0M290.8 218.1h0M291.5 216.3h0M292.1 214.4h0M292.7 212.6h0M293.4 210.8h0M294.0 208.9h0M294.7 207.1h0M295.2 205.2h0M295.9 203.4h0M296.6 201.5h0M297.2 199.7h0M297.9 197.9h0M298.6 196.0h0M299.1 194.2h0M299.7 192.3h0M300.5 190.5h0M302.4 185.0h0M302.9 183.1h0M303.6 181.3h0M304.3 179.4h0M304.8 177.5h0M305.6 175.8h0M306.0 173.9h0M307.3 170.2h0M307.8 168.3h0M292.9 218.9h0M293.6 217.1h0M294.3 215.2h0M294.9 213.4h0M295.7 211.6h0M296.3 209.8h0M297.0 207.9h0M297.8 206.1h0M298.4 204.3h0M299.3 202.5h0M300.0 200.7h0M301.4 197.1h0M302.2 195.3h0M302.8 193.4h0M303.4 191.6h0M304.2 189.8h0M305.0 188.0h0M306.4 184.4h0M307.2 182.6h0M309.2 177.1h0M309.8 175.3h0M294.7 219.6h0M295.6 217.9h0M296.3 216.1h0M297.1 214.3h0M298.0 212.5h0M298.7 210.7h0M299.5 209.0h0M300.4 207.2h0M301.1 205.4h0M301.9 203.6h0M302.9 201.9h0M303.5 200.1h0M304.4 198.3h0M305.0 196.5h0M306.0 194.8h0M306.6 192.9h0M307.4 191.2h0M308.4 189.4h0M309.0 187.6h0M310.0 185.9h0M310.6 184.0h0M311.6 182.4h0M312.2 180.5h0M313.2 178.8h0M314.6 175.2h0M316.2 171.6h0M317.3 169.9h0M317.8 168.0h0M320.1 162.7h0M296.9 220.7h0M297.8 219.0h0M298.8 217.3h0M299.6 215.5h0M300.5 213.8h0M301.4 212.1h0M302.3 210.3h0M303.1 208.5h0M304.0 206.8h0M305.0 205.1h0M305.8 203.4h0M306.6 201.6h0M307.5 199.9h0M308.4 198.1h0M309.4 196.4h0M310.2 194.6h0M311.2 193.0h0M312.1 191.2h0M312.8 189.4h0M313.8 187.7h0M314.8 186.0h0M315.4 184.2h0M316.3 182.4h0M317.4 180.8h0M318.2 179.1h0M319.1 177.3h0M319.9 175.5h0M320.8 173.8h0M321.7 172.1h0M298.9 221.7h0M299.8 220.0h0M300.8 218.4h0M301.8 216.7h0M302.8 215.0h0M303.6 213.2h0M304.6 211.5h0M305.5 209.8h0M306.5 208.2h0M307.6 206.5h0M308.5 204.8h0M309.4 203.1h0M310.5 201.5h0M311.3 199.7h0M312.4 198.0h0M313.3 196.4h0M315.3 193.0h0M316.1 191.2h0M318.3 187.9h0M319.0 186.1h0M320.2 184.6h0M322.9 179.4h0M324.0 177.8h0M326.0 174.4h0M326.8 172.6h0M327.9 171.0h0M329.1 169.4h0M329.9 167.7h0M330.7 165.8h0M332.8 162.6h0M333.7 160.8h0M334.5 159.1h0M336.7 155.8h0M300.9 223.0h0M302.1 221.4h0M303.1 219.8h0M304.2 218.1h0M305.1 216.5h0M306.3 214.9h0M307.4 213.2h0M308.4 211.6h0M309.5 210.0h0M310.5 208.3h0M311.6 206.7h0M312.7 205.1h0M313.7 203.4h0M314.8 201.8h0M315.7 200.1h0M316.9 198.5h0M317.9 196.8h0M319.0 195.3h0M319.9 193.5h0M321.2 192.0h0M322.3 190.4h0M323.2 188.7h0M324.4 187.1h0M325.4 185.4h0M326.4 183.7h0M327.4 182.1h0M328.4 180.4h0M331.9 175.7h0M332.6 173.9h0M333.8 172.3h0M334.8 170.6h0M335.8 169.0h0M337.0 167.4h0M302.7 224.2h0M303.9 222.6h0M305.1 221.1h0M306.2 219.5h0M307.2 217.9h0M308.4 216.3h0M309.5 214.7h0M310.8 213.2h0M311.9 211.6h0M313.0 210.0h0M314.2 208.4h0M315.3 206.8h0M316.4 205.3h0M317.6 203.7h0M318.6 202.0h0M319.7 200.5h0M321.0 198.9h0M322.0 197.3h0M323.2 195.7h0M324.3 194.2h0M325.5 192.6h0M327.8 189.4h0M328.9 187.9h0M330.0 186.3h0M333.5 181.6h0M334.7 180.0h0M336.7 176.7h0M338.1 175.2h0M340.3 172.0h0M342.6 168.9h0M346.1 164.2h0M347.1 162.5h0M349.3 159.3h0M354.0 153.0h0M304.7 225.7h0M305.9 224.2h0M307.1 222.7h0M308.4 221.2h0M309.5 219.6h0M310.9 218.2h0M312.0 216.6h0M313.2 215.0h0M314.5 213.6h0M315.7 212.0h0M317.0 210.6h0M318.0 208.9h0M319.5 207.6h0M320.5 205.9h0M321.9 204.5h0M323.1 203.0h0M324.2 201.4h0M325.5 199.9h0M326.6 198.3h0M327.9 196.8h0M329.0 195.3h0M330.4 193.9h0M332.9 190.9h0M334.0 189.3h0M335.3 187.8h0M336.5 186.3h0M340.1 181.6h0M341.3 180.2h0M342.6 178.7h0M343.6 177.0h0M346.1 174.0h0M347.2 172.4h0M351.1 168.0h0M352.3 166.5h0M353.4 164.9h0M306.5 227.3h0M307.7 225.7h0M309.1 224.3h0M310.3 222.8h0M311.6 221.4h0M312.9 219.9h0M314.2 218.5h0M315.5 217.0h0M316.9 215.6h0M318.1 214.1h0M319.4 212.6h0M320.6 211.1h0M321.9 209.6h0M323.2 208.2h0M324.7 206.9h0M326.0 205.4h0M327.1 203.8h0M328.5 202.4h0M329.8 201.1h0M330.9 199.4h0M332.3 198.0h0M333.5 196.5h0M334.8 195.1h0M336.1 193.6h0M337.4 192.2h0M338.7 190.7h0M340.0 189.3h0M341.6 188.0h0M342.8 186.5h0M344.2 185.1h0M346.5 182.0h0M347.9 180.6h0M349.3 179.2h0M353.2 174.9h0M354.2 173.2h0M355.8 172.0h0M361.0 166.2h0M362.2 164.7h0M363.4 163.1h0M364.9 161.8h0M308.3 228.9h0M309.7 227.5h0M311.0 226.2h0M312.5 224.9h0M313.8 223.4h0M315.1 222.0h0M316.5 220.6h0M317.9 219.3h0M319.2 217.8h0M320.7 216.5h0M322.0 215.1h0M323.4 213.7h0M324.7 212.3h0M326.2 211.0h0M327.6 209.7h0M328.8 208.1h0M330.4 206.9h0M331.7 205.5h0M333.0 204.1h0M334.3 202.6h0M335.8 201.4h0M338.5 198.5h0M339.8 197.1h0M341.4 195.9h0M342.7 194.4h0M344.0 193.0h0M345.3 191.5h0M346.8 190.3h0M348.3 189.0h0M349.6 187.6h0M350.8 186.0h0M352.2 184.7h0M363.2 173.6h0M364.5 172.1h0M367.2 169.4h0M368.7 168.1h0M309.8 230.5h0M311.2 229.2h0M312.7 227.9h0M314.2 226.6h0M315.7 225.4h0M317.0 223.9h0M318.4 222.6h0M319.9 221.3h0M321.4 220.1h0M322.8 218.7h0M324.2 217.4h0M325.6 216.1h0M327.0 214.7h0M328.6 213.5h0M330.0 212.1h0M331.4 210.8h0M332.8 209.4h0M334.3 208.2h0M335.6 206.8h0M337.2 205.6h0M338.7 204.3h0M340.1 203.0h0M341.4 201.5h0M343.0 200.4h0M345.8 197.7h0M347.1 196.2h0M348.6 195.0h0M350.2 193.8h0M351.7 192.5h0M352.9 191.0h0M354.4 189.7h0M357.4 187.2h0M358.7 185.8h0M361.7 183.3h0M363.1 181.9h0M364.4 180.5h0M367.3 177.8h0M370.3 175.4h0M371.7 174.0h0M373.0 172.6h0M374.5 171.2h0M377.3 168.6h0M379.1 167.6h0M311.4 232.4h0M312.9 231.2h0M314.4 229.8h0M315.9 228.6h0M317.4 227.4h0M318.9 226.1h0M320.5 225.1h0M321.9 223.7h0M323.5 222.6h0M324.9 221.2h0M326.6 220.1h0M328.1 218.8h0M329.5 217.6h0M331.1 216.4h0M332.6 215.1h0M334.1 213.9h0M335.5 212.6h0M337.0 211.4h0M338.5 210.1h0M340.1 208.9h0M341.6 207.8h0M343.0 206.3h0M344.6 205.3h0M346.2 204.1h0M347.7 202.8h0M349.0 201.4h0M350.5 200.1h0M352.2 199.1h0M353.7 197.9h0M355.0 196.4h0M356.7 195.4h0M358.3 194.2h0M361.2 191.6h0M364.2 189.1h0M368.5 185.2h0M373.3 181.8h0M376.1 179.0h0M312.8 234.1h0M314.2 232.8h0M315.9 231.7h0M317.4 230.5h0M318.9 229.3h0M320.5 228.2h0M322.0 226.9h0M323.6 225.8h0M325.3 224.8h0M326.8 223.6h0M328.3 222.3h0M329.9 221.2h0M331.4 219.9h0M333.0 218.8h0M334.5 217.6h0M336.1 216.5h0M337.8 215.5h0M339.2 214.1h0M340.8 213.0h0M342.4 211.9h0M343.9 210.7h0M345.5 209.5h0M347.1 208.4h0M348.6 207.2h0M350.2 206.1h0M351.7 204.7h0M353.4 203.8h0M355.0 202.7h0M358.0 200.2h0M359.6 199.0h0M362.7 196.7h0M364.3 195.6h0M365.8 194.4h0M367.4 193.3h0M370.4 190.8h0M372.2 189.9h0M373.6 188.5h0M379.7 183.7h0M381.3 182.5h0M383.0 181.5h0M384.7 180.6h0M314.1 236.0h0M315.7 234.9h0M317.3 233.8h0M319.0 232.7h0M320.6 231.6h0M322.2 230.5h0M323.8 229.5h0M325.4 228.4h0M327.0 227.3h0M328.7 226.2h0M330.3 225.1h0M331.9 224.0h0M333.5 222.9h0M335.0 221.7h0M336.7 220.7h0M338.4 219.7h0M340.1 218.7h0M341.6 217.5h0M343.2 216.4h0M344.9 215.4h0M346.4 214.1h0M348.2 213.3h0M352.9 209.9h0M354.5 208.7h0M356.2 207.8h0M357.9 206.8h0M361.0 204.5h0M362.7 203.5h0M366.0 201.4h0M369.2 199.1h0M370.8 198.0h0M315.4 238.0h0M317.0 236.9h0M318.7 235.9h0M320.3 234.9h0M322.0 233.9h0M323.7 232.9h0M325.3 231.9h0M327.1 231.0h0M328.7 229.9h0M330.4 228.9h0M332.1 227.9h0M333.8 226.9h0M335.4 226.0h0M337.1 225.0h0M338.7 223.8h0M340.4 222.8h0M342.1 221.9h0M343.8 220.9h0M345.4 219.9h0M347.1 218.9h0M348.8 218.0h0M350.5 216.9h0M352.0 215.7h0M353.8 214.9h0M355.5 214.0h0M357.1 212.8h0M358.9 212.0h0M360.4 210.8h0M362.1 209.8h0M363.7 208.7h0M367.2 206.9h0M368.9 206.0h0M370.5 204.9h0M372.2 203.8h0M373.9 203.0h0M375.6 202.0h0M377.1 200.7h0M380.4 198.6h0M316.4 239.8h0M318.1 238.9h0M319.8 237.9h0M321.6 237.0h0M323.3 236.2h0M325.0 235.1h0M326.7 234.2h0M328.4 233.3h0M330.1 232.4h0M331.8 231.4h0M333.6 230.6h0M335.3 229.6h0M337.0 228.7h0M338.8 227.9h0M340.4 226.8h0M342.2 226.0h0M343.9 225.2h0M345.6 224.2h0M347.3 223.2h0M349.1 222.4h0M350.8 221.5h0M352.4 220.4h0M354.2 219.5h0M356.0 218.7h0M361.1 215.9h0M362.8 214.9h0M364.5 214.0h0M366.2 213.1h0M368.0 212.2h0M371.3 210.2h0M373.0 209.3h0M374.8 208.4h0M317.5 242.0h0M319.2 241.1h0M321.0 240.3h0M322.8 239.6h0M324.6 238.8h0M326.3 237.8h0M328.1 237.0h0M329.9 236.3h0M331.7 235.5h0M333.4 234.5h0M335.2 233.8h0M336.9 232.9h0M338.7 232.1h0M340.5 231.3h0M342.2 230.5h0M343.9 229.5h0M345.7 228.7h0M347.6 228.0h0M349.2 227.0h0M351.1 226.4h0M352.7 225.3h0M354.6 224.8h0M356.3 223.8h0M358.1 223.0h0M361.7 221.4h0M363.5 220.6h0M366.9 218.8h0M368.8 218.2h0M370.4 217.0h0M372.2 216.3h0M373.9 215.4h0M377.6 214.0h0M379.4 213.2h0M381.1 212.2h0M382.9 211.6h0M384.6 210.6h0M318.4 244.1h0M320.2 243.2h0M322.0 242.5h0M323.8 241.8h0M325.6 241.1h0M327.4 240.4h0M329.3 239.7h0M331.1 239.0h0M332.8 238.0h0M334.7 237.4h0M336.5 236.7h0M338.2 235.9h0M340.1 235.2h0M341.9 234.5h0M343.7 233.7h0M345.5 233.1h0M347.3 232.3h0M350.9 230.7h0M354.5 229.3h0M358.1 227.8h0M359.8 226.9h0M361.6 226.1h0M372.5 221.8h0M319.4 246.5h0M321.2 245.8h0M323.0 245.2h0M324.9 244.6h0M326.7 244.0h0M328.5 243.2h0M330.3 242.6h0M332.3 242.1h0M334.0 241.3h0M335.9 240.7h0M337.8 240.2h0M339.6 239.4h0M341.5 238.9h0M343.3 238.2h0M346.9 236.8h0M348.8 236.2h0M352.5 235.1h0M356.2 233.7h0M358.0 233.0h0M320.0 248.7h0M321.9 248.1h0M323.8 247.5h0M325.6 247.0h0M327.5 246.3h0M329.4 245.9h0M331.2 245.4h0M333.1 244.8h0M335.0 244.3h0M336.9 243.7h0M338.7 243.1h0M340.5 242.5h0M342.4 241.9h0M344.3 241.4h0M348.1 240.5h0M350.0 239.9h0M351.8 239.2h0M353.7 238.7h0M355.5 238.1h0M363.1 236.1h0M320.6 250.7h0M322.5 250.2h0M324.4 249.9h0M326.3 249.4h0M328.2 248.9h0M330.1 248.5h0M332.0 248.1h0M333.9 247.6h0M335.8 247.1h0M337.7 246.7h0M339.5 246.2h0M343.3 245.3h0M345.2 244.8h0M349.0 243.8h0M350.9 243.5h0M352.8 243.0h0M321.0 252.7h0M322.9 252.4h0M324.8 251.9h0M326.8 251.7h0M328.7 251.3h0M330.6 250.9h0M332.5 250.4h0M334.4 250.2h0M336.3 249.7h0M338.2 249.5h0M340.1 248.9h0M342.1 248.6h0M344.0 248.2h0M345.9 247.7h0M347.8 247.6h0M349.7 247.0h0M351.6 246.9h0M321.4 255.0h0M323.3 254.8h0M325.3 254.4h0M327.2 254.2h0M329.1 253.9h0M331.0 253.4h0M333.0 253.2h0M336.8 252.8h0M338.7 252.3h0M321.7 257.2h0M323.6 256.9h0M325.5 256.7h0M327.5 256.5h0M321.8 259.1h0M323.7 259.0h0M311.3 193.1h0M367.1 204.3h0M356.7 223.8h0M350.3 226.6h0M338.9 253.6h0M354.5 234.6h0M343.6 250.1h0M340.8 253.6h0M341.8 253.5h0M352.3 193.5h0M366.6 188.1h0M345.1 242.7h0M357.4 220.8h0M324.0 202.9h0M345.2 249.0h0M359.0 222.7h0M293.2 190.3h0M316.3 200.2h0M330.2 189.7h0M322.9 205.6h0M302.9 176.7h0M340.0 210.4h0M338.5 194.4h0M333.2 205.9h0M371.1 220.3h0M375.0 197.9h0M353.5 236.6h0M358.4 189.3h0M319.4 202.6h0M358.5 173.6h0M337.8 227.2h0M342.8 241.2h0M335.4 208.9h0M317.4 192.7h0M363.8 202.7h0M346.8 246.1h0M290.2 193.8h0M292.9 192.9h0M303.9 189.1h0M305.3 176.5h0M331.9 183.8h0M345.6 235.8h0M328.2 213.0h0M366.7 173.2h0M343.7 209.3h0M355.6 211.1h0M354.5 187.8h0M371.0 214.9h0M330.7 256.8h0M357.2 234.8h0M345.9 237.4h0M313.8 171.6h0M322.7 209.3h0M343.7 232.2h0M329.9 163.4h0M312.1 172.9h0M325.9 168.9h0M337.8 181.0h0M365.1 213.5h0M313.2 176.4h0M302.2 190.6h0M344.8 235.5h0M324.8 203.6h0M339.0 215.0h0M348.6 161.1h0M343.9 187.7h0M287.7 192.4h0M297.2 185.0h0M300.3 192.3h0M303.3 179.8h0M347.4 218.9h0M320.2 191.2h0M354.5 197.6h0M297.8 192.8h0M345.8 216.4h0M343.0 223.2h0M293.9 193.9h0M349.6 242.6h0M286.3 192.9h0M343.4 218.6h0M342.1 242.0h0M353.5 194.3h0M313.9 168.2h0M335.0 213.2h0M340.4 234.7h0M369.7 210.7h0M335.4 224.5h0M292.4 185.1h0M346.5 242.3h0M341.8 251.4h0M298.6 180.5h0M285.7 193.4h0M306.7 191.6h0M328.3 212.7h0M342.0 254.9h0M350.5 221.2h0M343.7 250.0h0M360.0 182.4h0M350.0 203.6h0M308.9 175.3h0M353.7 211.6h0M336.6 257.3h0M344.7 231.4h0M336.9 176.9h0M328.6 161.4h0M333.1 257.7h0M348.0 227.2h0M366.0 226.6h0M348.5 185.7h0M345.6 220.2h0M289.0 192.4h0M356.2 191.8h0M346.2 243.3h0M304.1 185.9h0M302.1 190.2h0M356.1 184.4h0M295.1 192.3h0M347.6 189.1h0M307.8 178.9h0M372.6 186.5h0M339.0 254.1h0M294.6 187.3h0M315.3 189.8h0M293.6 185.8h0M346.8 219.8h0M322.5 163.8h0M360.3 193.7h0M324.8 164.4h0M356.8 223.0h0M297.1 187.8h0M286.8 193.0h0M343.6 236.3h0M308.2 187.3h0M342.5 255.0h0M341.4 184.4h0M289.6 189.4h0M291.8 190.6h0M341.5 159.9h0M334.6 196.6h0M322.5 190.8h0M302.4 188.8h0M350.7 222.3h0M306.1 198.0h0M348.8 235.0h0M327.9 166.5h0M337.6 255.6h0M293.1 184.6h0M340.3 235.5h0M330.7 166.8h0M332.6 205.1h0M341.1 256.7h0M308.9 177.6h0M332.7 257.5h0M286.3 193.4h0M314.2 176.3h0M343.2 254.1h0M363.5 212.0h0M287.8 190.0h0M322.7 186.9h0M355.2 233.3h0M336.2 222.5h0M340.0 219.6h0M357.5 236.4h0M362.2 209.5h0M332.7 256.6h0M351.3 225.2h0M285.5 193.6h0M290.6 193.8h0M375.2 191.0h0M331.5 201.2h0" stroke="#0000ff" stroke-width="4.5" stroke-linecap="round" fill="none"/>
<path d="M336.6 111.2h0M310.9 139.7h0M324.7 140.2h0M337.8 145.6h0M329.4 147.4h0M332.4 152.8h0M319.3 153.3h0M312.4 154.8h0M283.1 152.8h0M283.1 155.9h0M294.7 154.3h0M326.3 155.1h0M331.7 157.4h0M311.6 157.4h0M316.3 161.3h0M310.9 160.5h0M326.3 162.1h0M327.8 162.8h0M276.2 164.4h0M273.9 170.1h0M282.4 170.5h0M288.5 171.0h0M294.7 164.4h0M294.7 167.4h0M303.9 162.8h0M301.6 165.9h0M306.2 167.4h0M308.6 170.5h0M299.3 170.5h0M303.2 172.8h0M315.5 169.0h0M321.7 169.0h0M323.2 172.1h0M314.0 172.1h0M332.4 167.4h0M337.1 164.4h0M335.5 172.1h0M338.6 169.0h0M330.1 172.1h0M292.4 173.6h0M268.1 187.5h0M275.4 188.8h0M276.3 191.3h0M348.9 124.0h0M351.6 124.0h0M354.2 125.8h0M362.4 142.5h0M370.1 145.1h0M388.6 144.6h0M389.6 151.7h0M349.7 148.5h0M358.5 148.0h0M417.1 162.8h0M355.4 161.3h0M357.7 162.0h0M365.4 162.0h0M378.5 165.9h0M387.8 161.3h0M394.0 172.1h0M400.1 173.6h0M369.3 172.8h0M429.6 113.5h0M487.4 171.6h0M259.4 219.7h0M259.4 225.1h0M238.3 239.4h0M244.0 244.7h0M247.0 248.2h0M252.4 247.4h0M254.0 246.2h0M215.8 249.6h0M220.1 252.8h0M202.4 241.3h0M213.1 244.4h0M217.8 245.9h0M186.2 253.6h0M202.4 254.4h0M399.3 175.0h0M390.9 176.5h0M389.3 179.6h0M381.6 181.9h0M380.8 184.2h0M386.2 183.5h0M387.8 182.7h0M394.7 186.6h0M391.6 189.6h0M389.3 190.4h0M394.0 195.0h0M391.6 197.4h0M375.5 186.6h0M377.8 189.6h0M380.8 195.0h0M373.1 195.0h0M370.8 198.9h0M372.4 200.4h0M380.8 202.7h0M377.8 204.3h0M393.2 204.3h0M404.7 206.6h0M407.4 213.5h0M381.6 210.5h0M377.0 212.0h0M371.6 211.2h0M390.9 219.7h0M389.3 224.3h0M386.2 222.0h0M383.9 222.8h0M381.6 224.3h0M377.8 223.6h0M377.0 227.4h0M393.2 229.7h0M400.1 228.2h0M400.1 234.3h0M407.1 225.9h0M409.4 232.8h0M380.8 233.3h0M375.5 233.6h0M372.4 235.9h0M369.3 237.4h0M367.7 241.3h0M360.8 247.4h0M363.1 249.0h0M377.0 241.3h0M373.9 242.1h0M371.6 242.8h0M397.0 249.0h0M404.7 247.4h0M375.5 250.5h0M378.5 252.1h0M365.4 253.6h0M422.9 207.8h0M423.9 237.9h0M409.3 240.5h0M399.3 253.6h0M380.8 199.7h0M381.5 207.4h0M373.1 240.8h0M377.0 240.0h0M363.9 246.9h0M367.7 246.2h0M379.3 250.8h0M367.7 255.4h0M371.6 256.2h0M377.8 255.4h0M380.8 254.6h0M383.2 253.9h0M398.6 254.6h0M380.8 259.3h0M381.6 260.8h0M387.0 259.3h0M389.3 258.5h0M392.4 258.5h0M395.5 259.3h0M400.9 259.3h0M349.2 260.0h0M353.9 260.0h0M357.0 260.0h0M360.0 260.0h0M363.1 265.4h0M367.0 266.2h0M370.8 269.3h0M373.1 268.5h0M377.8 267.0h0M380.8 270.8h0M385.5 267.0h0M390.9 267.7h0M397.8 266.2h0M400.9 267.7h0M390.1 270.8h0M394.0 270.8h0M394.7 272.4h0M353.9 268.5h0M365.4 271.6h0M364.7 273.1h0M370.8 274.7h0M370.1 277.8h0M372.4 277.8h0M376.2 275.5h0M363.1 277.8h0M367.0 281.6h0M371.6 283.2h0M380.8 279.8h0M351.6 277.8h0M355.4 277.8h0M356.2 283.9h0M354.6 287.8h0M361.6 287.0h0M373.1 290.9h0M371.6 294.0h0M346.9 297.8h0M353.9 297.8h0M188.4 289.7h0M196.2 290.1h0M200.9 293.1h0M218.4 289.2h0M214.4 296.9h0M210.3 297.5h0M209.7 300.9h0M213.0 304.0h0M220.5 295.5h0M223.2 294.6h0M231.9 298.9h0M227.9 305.6h0M185.4 311.7h0M184.0 313.7h0M200.2 312.1h0M211.0 315.7h0M216.4 316.7h0M220.5 318.4h0M223.2 319.1h0M223.8 321.8h0M231.9 320.5h0M231.3 329.2h0M205.0 334.6h0M203.6 336.0h0M197.5 342.7h0M207.0 346.1h0M215.1 344.7h0M214.4 347.4h0M223.2 342.0h0M226.5 346.8h0M235.3 304.3h0M238.0 302.9h0M239.3 300.2h0M242.0 300.9h0M238.0 308.3h0M240.0 305.6h0M246.1 312.4h0M247.4 307.0h0M248.8 304.3h0M246.1 297.5h0M247.4 296.9h0M241.4 323.2h0M242.0 327.2h0M240.7 330.6h0M243.4 331.3h0M244.1 334.6h0M236.0 339.3h0M234.0 341.4h0M235.3 343.4h0M238.0 342.7h0M242.0 342.0h0M246.1 343.4h0M248.1 338.0h0M233.3 346.1h0M239.3 347.4h0M219.1 255.7h0M215.1 257.8h0M223.8 261.1h0M226.5 261.1h0M226.5 265.9h0M223.8 269.9h0M195.5 265.2h0M197.5 269.2h0M196.2 270.6h0M202.3 273.3h0M207.7 276.0h0M212.4 278.3h0M198.9 278.0h0M185.4 275.3h0M223.8 275.3h0M227.2 277.3h0M224.5 287.4h0M221.8 286.1h0M239.3 259.1h0M258.5 291.2h0M263.9 288.5h0M272.0 289.8h0M277.4 287.8h0M281.4 288.5h0M251.7 297.3h0M256.5 298.6h0M258.5 295.2h0M265.9 295.9h0M270.6 297.9h0M278.7 293.2h0M282.8 295.2h0M286.8 292.5h0M289.5 296.6h0M292.2 293.9h0M250.4 308.7h0M257.8 302.0h0M256.5 304.0h0M259.8 307.4h0M266.6 306.0h0M268.6 308.7h0M265.2 310.7h0M270.0 302.0h0M266.6 301.3h0M278.7 301.3h0M281.4 304.0h0M284.1 301.3h0M285.5 306.0h0M280.1 307.4h0M278.7 311.4h0M282.8 309.4h0M288.2 308.7h0M290.9 305.3h0M292.2 310.1h0M249.0 314.1h0M251.1 315.5h0M255.8 319.5h0M258.5 321.5h0M255.1 322.9h0M262.5 315.5h0M260.5 317.5h0M285.5 314.1h0M288.2 315.5h0M282.8 318.2h0M286.8 320.9h0M285.5 322.2h0M289.5 323.6h0M272.0 321.5h0M274.0 320.9h0M270.0 323.6h0M266.6 326.3h0M271.3 329.0h0M268.6 329.6h0M279.4 329.6h0M276.0 333.0h0M278.0 332.3h0M286.8 331.0h0M291.5 334.3h0M262.5 334.3h0M265.2 335.7h0M261.2 337.0h0M264.6 339.7h0M267.3 339.1h0M258.5 338.4h0M251.7 341.1h0M247.0 342.4h0M255.8 341.1h0M270.0 338.4h0M269.3 342.4h0M276.0 338.4h0M275.3 341.8h0M289.5 343.8h0M186.9 352.3h0M196.2 353.1h0M212.4 348.5h0M208.5 354.6h0M224.7 350.5h0M237.0 343.9h0M235.5 348.5h0M239.3 351.6h0M242.4 346.2h0M244.7 350.8h0M247.8 340.8h0M257.1 340.8h0M250.1 349.2h0M250.9 352.3h0M252.4 355.4h0M257.1 351.6h0M257.8 358.5h0M241.7 359.3h0M247.8 360.0h0M235.5 360.8h0M229.3 360.8h0M228.6 363.1h0M255.5 365.4h0M254.8 368.5h0M254.0 371.6h0M248.6 367.0h0M250.1 367.7h0M208.5 364.7h0M211.6 365.4h0M216.2 364.7h0M222.4 365.4h0M220.8 368.5h0M224.7 370.1h0M230.9 372.4h0M198.2 368.5h0M208.5 377.0h0M227.0 383.2h0M258.6 378.5h0M252.1 381.3h0M250.9 388.6h0M225.5 392.4h0M230.9 391.6h0M229.3 397.8h0M227.8 400.1h0M235.5 401.7h0M234.7 405.5h0M210.1 403.2h0M208.5 405.5h0M241.5 331.5h0M242.3 334.6h0M246.2 337.7h0M249.2 336.9h0M253.1 340.8h0M256.2 338.5h0M265.4 333.9h0M280.1 331.5h0M241.5 344.6h0M243.9 342.3h0M260.0 343.9h0M258.5 347.0h0M259.3 350.0h0M263.1 347.0h0M264.7 349.3h0M263.9 351.6h0M263.1 354.7h0M263.1 357.7h0M261.6 359.3h0M268.5 345.4h0M271.6 345.4h0M272.4 347.0h0M271.6 353.1h0M275.5 353.1h0M276.2 354.7h0M280.8 356.2h0M279.3 360.8h0M276.2 363.9h0M246.2 350.0h0M256.2 355.4h0M255.4 360.1h0M247.7 358.5h0M246.9 361.6h0M260.8 367.8h0M265.4 370.1h0M275.5 373.2h0M265.4 377.8h0M264.7 385.5h0M263.9 391.7h0M268.5 394.7h0M263.1 408.6h0M157.8 280.2h0M176.9 287.9h0M164.5 309.5h0M186.1 309.5h0M330.5 294.2h0M291.3 324.5h0M290.7 343.4h0M253.5 297.3h0M257.4 296.9h0M259.3 299.7h0M256.4 302.6h0M258.8 305.0h0M261.2 307.9h0M263.7 310.8h0M265.1 306.5h0M267.5 302.2h0M269.4 297.8h0M271.4 293.5h0M269.0 305.0h0M267.0 309.9h0M261.2 303.1h0M264.1 299.3h0M262.2 292.5h0M255.5 293.5h0M260.3 312.8h0M257.4 308.9h0M280.0 177.0h0M283.1 180.8h0M290.8 177.0h0M277.0 193.2h0M269.2 194.7h0M272.5 198.0h0M270.0 203.0h0M266.5 206.0h0M274.9 262.4h0M271.6 258.7h0M269.7 256.8h0M265.0 250.0h0M267.0 250.4h0M266.7 248.0h0M264.1 239.2h0M263.6 237.4h0M262.2 232.5h0M262.1 229.0h0M260.3 221.7h0M260.6 214.3h0M265.7 211.3h0M264.9 206.9h0M265.3 207.0h0M270.7 202.1h0M274.3 195.2h0M275.1 196.1h0M277.3 188.5h0M281.4 186.7h0M281.7 187.9h0M286.5 185.6h0M287.6 186.6h0M293.6 182.6h0M298.2 180.1h0M301.6 179.3h0M304.3 181.1h0M310.4 183.4h0M312.2 183.9h0M316.0 187.2h0M318.2 187.8h0M321.5 188.1h0M324.7 190.6h0M328.0 195.3h0M331.6 199.6h0M332.6 200.7h0M337.3 204.0h0M337.5 207.4h0M339.5 210.7h0M339.4 212.8h0M341.8 214.8h0M341.0 223.4h0M341.8 225.2h0M341.8 230.6h0M344.1 235.2h0M343.5 236.3h0M340.2 239.8h0M338.6 243.2h0M335.8 248.8h0M335.5 254.9h0M332.0 256.1h0M329.1 260.1h0M326.4 257.3h0M321.2 260.0h0M320.6 257.8h0M315.2 261.1h0M310.7 261.0h0M305.1 260.8h0M303.3 260.1h0M300.1 260.9h0M295.3 261.1h0M290.6 261.5h0M288.4 262.1h0M286.4 261.7h0M282.9 260.2h0M275.2 262.3h0M277.0 262.7h0M282.4 263.5h0M283.3 261.3h0M289.6 260.8h0M296.2 261.8h0M298.9 262.6h0M300.5 263.1h0M308.5 261.3h0M309.0 260.4h0M314.3 262.8h0M319.3 260.6h0M319.2 260.5h0M323.0 261.7h0M327.4 262.3h0M333.8 259.7h0M335.5 259.6h0M341.1 260.9h0M343.4 260.4h0M346.1 263.1h0M349.1 261.3h0M352.3 269.0h0M353.8 274.9h0M351.1 278.3h0M350.0 280.5h0M348.6 284.9h0M349.6 287.9h0M346.5 290.2h0M342.3 290.3h0M337.1 291.6h0M334.6 294.9h0M330.7 294.6h0M326.4 290.3h0M319.0 289.8h0M314.1 288.4h0M312.8 288.6h0M301.2 286.0h0M300.5 285.5h0M291.9 280.8h0M290.2 276.3h0M289.3 273.3h0M282.4 269.4h0M279.3 266.3h0M278.7 265.6h0M280.4 265.4h0M280.9 267.8h0M283.1 271.4h0M286.4 275.8h0M287.4 277.8h0M291.3 283.2h0M292.5 289.3h0M289.4 292.4h0M289.9 294.3h0M283.2 299.6h0M279.2 296.8h0M276.0 293.6h0M278.7 292.3h0M276.4 286.3h0M276.9 284.3h0M274.6 276.5h0M276.7 271.4h0M273.9 267.4h0M276.4 266.2h0M233.7 263.7h0M236.8 260.8h0M239.1 259.6h0M243.8 257.8h0M248.0 256.9h0M256.4 258.4h0M263.5 260.2h0M266.3 260.1h0M274.8 261.0h0M269.4 263.8h0M263.4 261.9h0M263.1 264.7h0M263.6 273.2h0M263.8 274.1h0M265.2 276.7h0M272.4 282.8h0M270.1 285.3h0M263.9 285.1h0M261.9 287.3h0M257.8 287.5h0M252.6 290.1h0M244.7 286.7h0M244.4 287.9h0M232.3 287.5h0M230.1 286.8h0M229.9 285.9h0M229.7 279.1h0M229.5 272.8h0M229.9 270.3h0M361.6 171.3L376.2 157.4M350.8 158.2L355.4 152.8M389.3 166.7L394.7 161.6M391.6 212.0L378.5 218.2" stroke="#0000ff" stroke-width="4.5" stroke-linecap="round" fill="none"/>
<polygon points="238.2,220.8 236.2,187.1 255.5,172.4 286.3,228.2 366.1,117.4 397.6,147.4 457.1,165.8 486.0,213.2 325.0,263.0 392.5,333.8 313.3,300.6 348.5,399.0 277.1,264.6 275.3,309.3 253.5,333.7 241.8,316.2 134.2,394.0 195.3,304.6 53.0,313.0 89.0,255.4 197.5,237.6 276.7,261.6" fill="none" stroke="#ff8000" stroke-width="4" stroke-linejoin="round"/>
<line x1="119.6" y1="93.8" x2="432.4" y2="429.2" stroke="rgb(255,0,0)" stroke-opacity="0.6" stroke-width="2.8" stroke-dasharray="17.8 15.8"/>
<path d="M46.5,253.7L65.5,256.8M79.4,259L95.5,261.6M109.8,262.6L126.1,263.6M140.1,263.4L156.8,263.1M170.8,263L187.4,262.5M201.5,262.3L217.2,260.4M231.6,257.4L239.5,255.4L246.6,252.7M258.7,244.1L264.3,238.3L269.1,231.9M275.4,218.7L281,204.7M285.7,190.2L289.7,175.2M294,162L299.2,146M305,132.6L312,117.1M316.1,104.4L322.4,88.6M327,76.2L332.8,60.9M336.9,46.6L338.8,43.5M83.1,380.1L100.1,380.1M113.3,380.7L130.8,380.7M143.9,380.7L161.5,380.7M174.6,380.1L192.1,380.0M205.8,379.2L222.4,377.4M235.5,376.2L252.2,373.9M265.3,371.3L282,367.8M295.1,363.4L310.5,358.8M323.7,352.7L338.5,346.2M350.8,337.8L364.8,329.9M375.3,321.2L388.5,310.7M398.1,300.1L410,288.8M418.8,278.3L429.6,266.5M438.8,254.7L450.1,241.4M456.4,230.2L466.4,216.4M475.2,205.1L484,192.6M491.5,180L494.7,177.5" stroke="#000" stroke-width="4.4" fill="none" stroke-linecap="butt" stroke-linejoin="round"/>
<text x="149.8" y="95.4" transform="rotate(47 149.8 95.4)" fill="#ff0000" font-size="19">Bridge Axis</text>
<g font-size="18.5" fill="#000"><text x="95.9" y="82.8">0°</text><text x="138.2" y="47.1">15°</text><text x="209.4" y="24.1">30°</text><text x="270.7" y="18.6">45°</text><text x="332.8" y="29.0">60°</text><text x="403.9" y="54.9">75°</text><text x="451.0" y="95.0">90°</text><text x="488.4" y="145.9">105°</text><text x="510.0" y="215.3">120°</text><text x="516.5" y="277.0">135°</text><text x="506.1" y="338.8">150°</text><text x="480.8" y="406.2">165°</text><text x="441.1" y="454.8">180°</text><text x="389.7" y="491.0">195°</text><text x="312.9" y="513.0">210°</text><text x="250.2" y="518.8">225°</text><text x="188.3" y="507.9">240°</text><text x="113.5" y="482.2">255°</text><text x="64.3" y="442.9">270°</text><text x="27.9" y="391.9">285°</text><text x="6.4" y="322.3">300°</text><text x="0.5" y="260.6">315°</text><text x="10.6" y="198.9">330°</text><text x="37.0" y="131.2">345°</text></g>
<line x1="453" y1="0" x2="453" y2="47" stroke="#eee" stroke-width="1"/>
<circle cx="474" cy="13.4" r="2.1" fill="#0000ff"/>
<line x1="456" y1="34.7" x2="494.2" y2="34.7" stroke="#ff8000" stroke-width="3.6" stroke-linecap="round"/>
<line x1="454.2" y1="55.9" x2="496" y2="55.9" stroke="#000" stroke-width="4.3" stroke-dasharray="12.8 4.7"/>
<g font-size="19.5" fill="#000"><text x="505" y="16.8">The measured data</text><text x="507" y="41.7" textLength="175" lengthAdjust="spacing">Numerical calculation</text><text x="507.8" y="63.5">Trend of river valley</text></g>
</svg></body></html>
